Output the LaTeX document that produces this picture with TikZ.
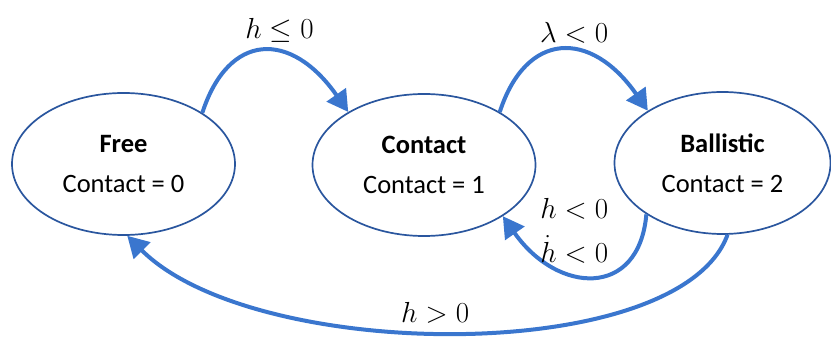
\documentclass[tikz,border=0pt]{standalone}
\usepackage{fix-cm}
\usepackage{fontspec}
\setmainfont{Carlito}
\usetikzlibrary{arrows.meta,positioning,shapes.geometric}
\definecolor{ringblue}{RGB}{42,86,158}
\definecolor{flowblue}{RGB}{58,118,206}

\begin{document}
\begin{tikzpicture}[x=1pt,y=1pt,
    state/.style={ellipse,draw=ringblue,line width=1.7pt,minimum width=223pt,
      minimum height=142pt,inner sep=0pt,align=center,
      font=\fontsize{26.5}{40}\selectfont},
    flow/.style={draw=flowblue,line width=4pt,
      -{Triangle[length=21pt,width=23pt]}},
    cond/.style={font=\fontsize{29}{44}\selectfont,align=center}]
  \useasboundingbox (0,0) rectangle (831,337);

  % Etats
  \node[state] (free) at (123.5,173) {\textbf{Free}\\Contact = 0};
  \node[state] (contact) at (424,172) {\textbf{Contact}\\Contact = 1};
  \node[state,minimum width=216pt] (ballistic) at (722.5,174)
    {\textbf{Ballistic}\\Contact = 2};

  % Transitions vers l'avant
  \draw[flow] (free.33) to[out=72,in=125,out distance=85pt,in distance=100pt]
    node[cond,above=4pt,xshift=16pt] {$h \leq 0$} (contact.145);
  \draw[flow] (contact.35) to[out=72,in=125,out distance=85pt,in distance=100pt]
    node[cond,above=2pt,xshift=12pt] {$\lambda < 0$} (ballistic.145);

  % Transitions de retour
  \draw[flow] (ballistic.214) to[out=-95,in=-55,out distance=85pt,in distance=95pt]
    node[cond,above=8pt,xshift=-18pt] {$h < 0$\\$\dot{h} < 0$} (contact.-33);
  \draw[flow] (ballistic.-86) to[out=-110,in=-45,out distance=140pt,in distance=180pt]
    node[cond,above=4pt,xshift=-22pt] {$h > 0$} (free.-87);

\end{tikzpicture}
\end{document}
